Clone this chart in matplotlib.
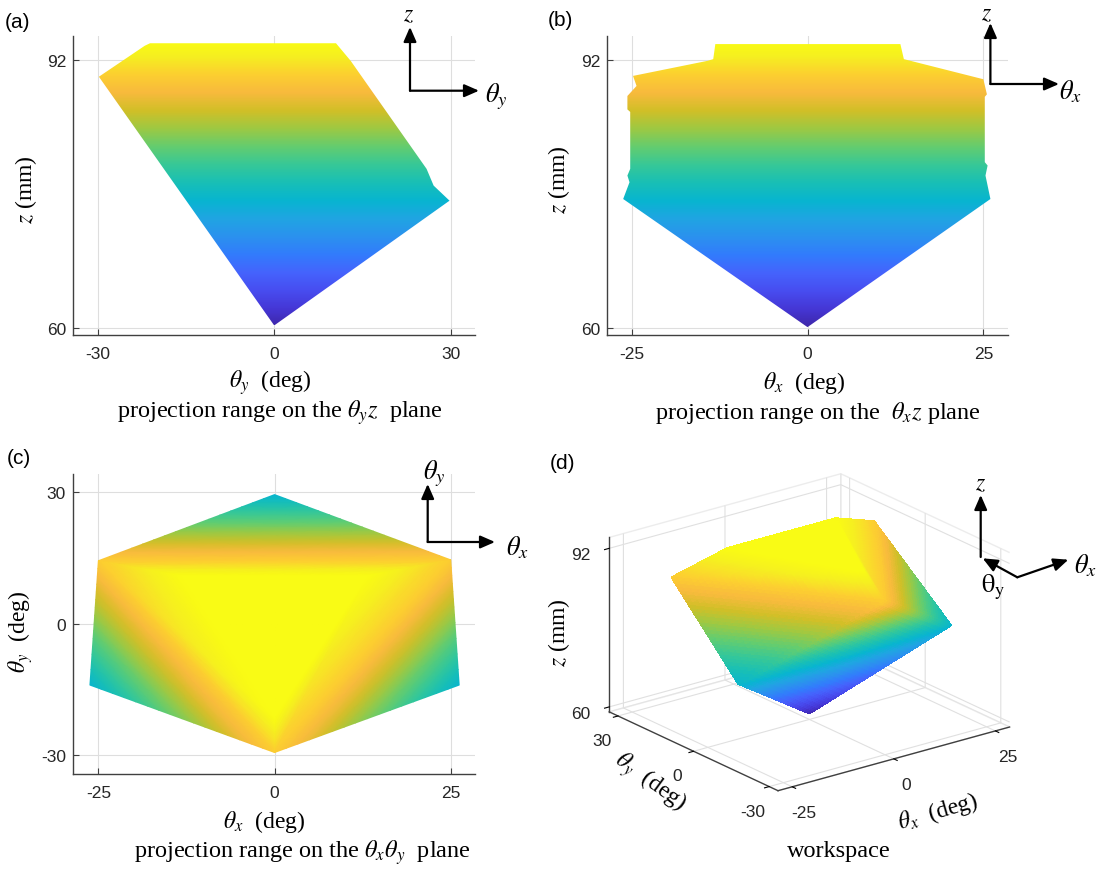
import numpy as np
import matplotlib
matplotlib.use("Agg")
import matplotlib.pyplot as plt
from matplotlib.colors import LinearSegmentedColormap, Normalize
from matplotlib.patches import Polygon, FancyArrowPatch
import matplotlib.tri as mtri
from mpl_toolkits.mplot3d import proj3d
from mpl_toolkits.mplot3d.art3d import Poly3DCollection

plt.rcParams['font.family'] = 'Liberation Sans'
plt.rcParams['mathtext.fontset'] = 'stix'
plt.rcParams['axes.unicode_minus'] = False
plt.rcParams['grid.color'] = '#dedede'
plt.rcParams['grid.linewidth'] = 0.8

W, H = 1102, 870

# ---------------- data ----------------
# (a) outline of the reachable set projected on the theta_y - z plane
a_theta_y = [-21.1, 10.5, 13.0, 25.9, 27.1, 29.8, 0.0, -29.8, -22.0]
a_z = [94.0, 94.0, 91.9, 79.0, 77.0, 75.2, 60.3, 90.0, 93.7]

# (b) outline of the reachable set projected on the theta_x - z plane
b_theta_x = [-13.1, 13.2, 13.7, 25.0, 25.5, 25.2, 25.2, 25.6, 25.3, 26.0, 0.0,
             -26.2, -25.3, -25.6, -25.2, -25.2, -25.6, -25.6, -24.3, -24.8,
             -14.2, -13.4]
b_z = [93.9, 93.9, 92.1, 89.7, 87.9, 87.6, 79.8, 79.4, 78.2, 75.4, 60.1,
       75.4, 77.4, 78.2, 79.0, 85.8, 86.1, 87.7, 88.9, 90.1,
       91.9, 92.1]

# workspace vertices: apex, lower ring (T, LL, LR), upper ring (UL, UR, B), top face (Y1, Y2, Y3)
ws_theta_x = [0.0, 0.0, -26.2, 26.2, -25.0, 25.0, 0.0, -13.3, 13.3, 0.0]
ws_theta_y = [0.0, 29.5, -14.0, -14.0, 14.4, 14.6, -29.4, 11.0, 11.0, -21.5]
ws_z = [60.2, 75.2, 75.4, 75.4, 89.9, 89.9, 90.0, 94.0, 94.0, 94.0]

# boundary faces of the workspace; the first ten face upwards
ws_faces = [(7, 8, 9), (7, 8, 5), (7, 5, 4), (8, 9, 6), (8, 6, 5),
            (9, 7, 4), (9, 4, 6), (1, 5, 4), (5, 3, 6), (4, 6, 2),
            (1, 3, 5), (1, 2, 4), (0, 1, 3), (0, 3, 6), (0, 6, 2), (0, 2, 1)]
n_top_faces = 10

z_ticks = [60, 92]
a_ticks = [-30, 0, 30]
b_ticks = [-25, 0, 25]
c_yticks = [-30, 0, 30]

# ---------------- colour map (parula) ----------------
parula = [(0.2422, 0.1504, 0.6603), (0.2706, 0.2147, 0.8364), (0.2813, 0.3006, 0.9414),
          (0.2699, 0.3892, 0.9906), (0.1963, 0.4847, 0.9892), (0.1687, 0.5703, 0.9359),
          (0.1248, 0.6459, 0.8883), (0.0297, 0.7082, 0.8163), (0.0964, 0.7500, 0.7120),
          (0.2161, 0.7843, 0.5923), (0.3909, 0.8029, 0.4354), (0.6174, 0.7876, 0.2612),
          (0.8203, 0.7498, 0.1535), (0.9728, 0.7298, 0.2394), (0.9892, 0.8136, 0.1885),
          (0.9628, 0.9373, 0.1265), (0.9769, 0.9839, 0.0805)]
pos = [i * 4 / 63 for i in range(16)] + [1.0]
cmap = LinearSegmentedColormap.from_list('parula', list(zip(pos, parula)), N=256)
norm = Normalize(60, 94)

SERIF = 'Liberation Serif'
INK = '#262626'

fig = plt.figure(figsize=(W / 100, H / 100), dpi=100)


def fx(x):
    return x / W


def fy(y):
    return 1 - y / H


def style2d(ax, xlim, ylim, xticks, yticks):
    ax.set_xlim(xlim)
    ax.set_ylim(ylim)
    ax.set_xticks(xticks)
    ax.set_yticks(yticks)
    ax.grid(True, color='#dedede', lw=0.8)
    ax.set_axisbelow(True)
    for s in ('top', 'right'):
        ax.spines[s].set_visible(False)
    for s in ('left', 'bottom'):
        ax.spines[s].set_color('#404040')
        ax.spines[s].set_linewidth(1.0)
    ax.tick_params(direction='in', length=4, width=0.8, color='#404040',
                   labelsize=12.5, labelcolor=INK)
    ax.tick_params(axis='x', pad=8)
    ax.tick_params(axis='y', pad=5)


def gradient_fill(ax, xs, zs):
    poly = Polygon(np.column_stack([xs, zs]), closed=True, facecolor='none', edgecolor='none')
    ax.add_patch(poly)
    zz = np.linspace(min(zs), max(zs), 400)[:, None]
    im = ax.imshow(zz, extent=(min(xs), max(xs), min(zs), max(zs)), origin='lower',
                   aspect='auto', cmap=cmap, norm=norm, interpolation='bilinear', zorder=2)
    im.set_clip_path(poly)


# ---------------- (a) ----------------
ax_a = fig.add_axes([fx(73), fy(336), (475.4 - 73) / W, (336 - 36.7) / H])
gradient_fill(ax_a, a_theta_y, a_z)
style2d(ax_a, (-34.2, 34.2), (59.16, 94.9), a_ticks, z_ticks)

# ---------------- (b) ----------------
ax_b = fig.add_axes([fx(607), fy(336), (1008 - 607) / W, (336 - 36.7) / H])
gradient_fill(ax_b, b_theta_x, b_z)
style2d(ax_b, (-28.5, 28.5), (59.16, 94.9), b_ticks, z_ticks)

# ---------------- (c) ----------------
ax_c = fig.add_axes([fx(73), fy(775), (475.4 - 73) / W, 300 / H])
tri = mtri.Triangulation(ws_theta_x, ws_theta_y, ws_faces[:n_top_faces])
interp = mtri.LinearTriInterpolator(tri, ws_z)
tri_f, z_f = mtri.UniformTriRefiner(tri).refine_field(ws_z, triinterpolator=interp, subdiv=4)
ax_c.tripcolor(tri_f, z_f, shading='gouraud', cmap=cmap, norm=norm, zorder=2)
style2d(ax_c, (-28.6, 28.5), (-34.3, 34.2), b_ticks, c_yticks)

# ---------------- (d) ----------------
elev, azim = 21, -127.5
box = np.array([1.0, 0.95, 0.64])
xl, yl, zl = (-28.5, 28.5), (-33.5, 33.5), (59.0, 94.2)

ax3 = fig.add_axes([0.52, 0.02, 0.45, 0.45], projection='3d')
ax3.set_proj_type('ortho')
ax3.view_init(elev=elev, azim=azim)
ax3.set_box_aspect(tuple(box))
ax3.set_xlim(xl)
ax3.set_ylim(yl)
ax3.set_zlim(zl)
ax3.set_xticks(b_ticks)
ax3.set_yticks(c_yticks)
ax3.set_zticks(z_ticks)
ax3.tick_params(labelsize=12.5, labelcolor=INK)
for axis in (ax3.xaxis, ax3.yaxis, ax3.zaxis):
    axis.pane.set_facecolor((1, 1, 1, 0))
    axis.pane.set_edgecolor('#dadada')
    axis.line.set_color('#404040')
    axis.line.set_linewidth(1.0)
    try:
        axis._axinfo['grid'].update({'color': '#e0e0e0', 'linewidth': 0.8})
        axis._axinfo['tick'].update({'inward_factor': 0.25, 'outward_factor': 0.0})
    except Exception:
        pass


def subdivide(v, n):
    e1, e2 = (v[1] - v[0]) / n, (v[2] - v[0]) / n
    out = []
    for i in range(n):
        for j in range(n - i):
            a = v[0] + i * e1 + j * e2
            b = a + e1
            c = a + e2
            out.append(np.array([a, b, c]))
            if j < n - i - 1:
                out.append(np.array([b, b + e2, c]))
    return out


pts = np.column_stack([ws_theta_x, ws_theta_y, ws_z])
centre = pts.mean(axis=0)
el_r, az_r = np.radians(elev), np.radians(azim)
eye = np.array([np.cos(el_r) * np.cos(az_r), np.cos(el_r) * np.sin(az_r), np.sin(el_r)])
span = np.array([xl[1] - xl[0], yl[1] - yl[0], zl[1] - zl[0]])
polys, cols = [], []
for f in ws_faces:
    v = pts[list(f)]
    n = np.cross(v[1] - v[0], v[2] - v[0])
    if np.dot(n, v.mean(axis=0) - centre) < 0:
        n = -n
    if np.dot(n * span / box, eye) <= 0:
        continue
    for t in subdivide(v, 30):
        polys.append(t)
        cols.append(cmap(norm(t[:, 2].mean())))
ax3.add_collection3d(Poly3DCollection(polys, facecolors=cols, edgecolors=cols,
                                      linewidths=0.6, antialiased=False))

# place the 3D box so that its floor corners sit where they belong on the page
fig.canvas.draw()
p0 = ax3.get_position()
S0 = p0.width * W
C0 = np.array([(p0.x0 + p0.x1) / 2 * W, (p0.y0 + p0.y1) / 2 * H])
M = ax3.get_proj()
corners = [(xl[0], yl[0], zl[0]), (xl[1], yl[0], zl[0]), (xl[0], yl[1], zl[0]), (xl[0], yl[1], zl[1])]
targets = np.array([(780, 792), (1008, 730), (613, 712), (605, 537)], float)
targets[:, 1] = H - targets[:, 1]
proj = []
for c in corners:
    xs, ys, _ = proj3d.proj_transform(*c, M)
    proj.append(ax3.transData.transform((xs, ys)))
proj = np.array(proj)
fr = (proj - C0) / S0
fm, tm = fr.mean(axis=0), targets.mean(axis=0)
S = ((fr - fm) * (targets - tm)).sum() / ((fr - fm) ** 2).sum()
C = tm - S * fm
ax3.set_position([(C[0] - S / 2) / W, (C[1] - S / 2) / H, S / W, S / H])

# ---------------- texts ----------------
def ftext(x, y, s, size=17, family=SERIF, **kw):
    fig.text(fx(x), fy(y), s, fontsize=size, family=family, ha=kw.pop('ha', 'center'),
             va=kw.pop('va', 'center'), color='black', **kw)


for lab, (x, y) in {'(a)': (5, 22), '(b)': (548, 21), '(c)': (7, 459), '(d)': (550, 464)}.items():
    ftext(x, y, lab, size=15, family='Liberation Sans', ha='left')

ftext(270, 383, r'$\theta_y$  (deg)')
ftext(804, 383, r'$\theta_x$  (deg)')
ftext(264, 822, r'$\theta_x$  (deg)')
ftext(26, 190, r'$z$ (mm)', rotation=90)
ftext(559, 180, r'$z$ (mm)', rotation=90)
ftext(21, 632, r'$\theta_y$  (deg)', rotation=90)
ftext(559, 633, r'$z$ (mm)', rotation=90)
ftext(938, 812, r'$\theta_x$  (deg)', rotation=16)
ftext(650, 783, r'$\theta_y$  (deg)', rotation=-36)

ftext(280, 413, r'projection range on the $\theta_y z$  plane', size=17.5)
ftext(818, 413, r'projection range on the  $\theta_x z$ plane', size=17.5)
ftext(302, 853, r'projection range on the $\theta_x\theta_y$  plane', size=17.5)
ftext(839, 852, 'workspace', size=17.5)


def arrow(x0, y0, x1, y1):
    fig.add_artist(FancyArrowPatch((fx(x0), fy(y0)), (fx(x1), fy(y1)), transform=fig.transFigure,
                                   arrowstyle='-|>,head_length=0.8,head_width=0.35',
                                   mutation_scale=11, lw=1.6, color='black',
                                   shrinkA=0, shrinkB=0))


# frame glyphs
arrow(410, 91.7, 410, 28)
arrow(410, 91.7, 479, 91.7)
ftext(409, 16, r'$z$')
ftext(496, 97, r'$\theta_y$', size=19)

arrow(990.4, 85, 990.4, 24)
arrow(990.4, 85, 1059, 85)
ftext(987, 15, r'$z$')
ftext(1070, 92, r'$\theta_x$', size=19)

arrow(427.7, 543, 427.7, 485)
arrow(427.7, 543, 495, 543)
ftext(434, 474, r'$\theta_y$', size=19)
ftext(517, 548, r'$\theta_x$', size=19)

arrow(980.7, 558, 980.7, 496)
arrow(1017.3, 578.3, 982.7, 559.3)
arrow(1017.3, 578.3, 1068.3, 560.7)
ftext(980.7, 485, r'$z$')
ftext(993, 587, r'$\mathrm{\theta}_{\mathrm{y}}$', size=19)
ftext(1085, 566, r'$\theta_x$', size=19)

fig.savefig('out.png', dpi=100)
